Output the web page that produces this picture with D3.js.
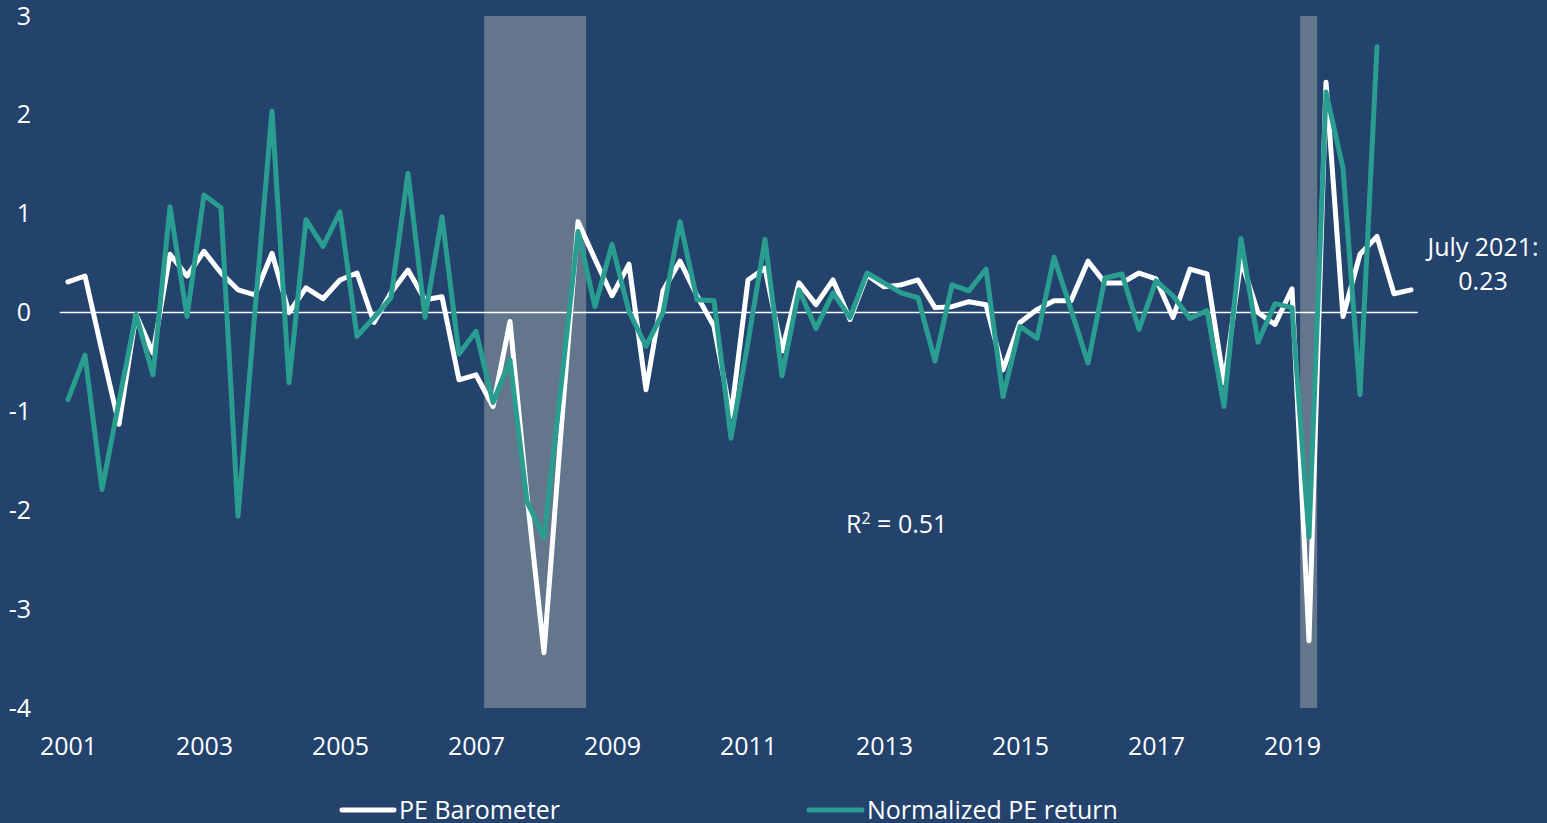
<!DOCTYPE html>
<html>
<head>
<meta charset="utf-8">
<script src="https://cdn.jsdelivr.net/npm/d3@7"></script>
<style>
  html, body { margin: 0; padding: 0; background: #23436d; overflow: hidden; }
  svg { display: block; }
  text { font-family: "Open Sans", "Noto Sans", sans-serif; fill: #ffffff; }
</style>
</head>
<body>
<div id="chart"></div>
<script>
// ---- data (quarterly, starting 2001 Q1) ----
const startYear = 2001;
const peBarometer = [
  0.31, 0.37, -0.39, -1.13, -0.02, -0.41, 0.59, 0.37, 0.62, 0.40,
  0.23, 0.18, 0.60, 0.00, 0.25, 0.14, 0.33, 0.40, -0.10, 0.20,
  0.43, 0.13, 0.16, -0.68, -0.63, -0.95, -0.09, -1.85, -3.44, -1.20,
  0.92, 0.54, 0.17, 0.49, -0.78, 0.22, 0.52, 0.17, -0.14, -1.05,
  0.33, 0.45, -0.39, 0.30, 0.08, 0.33, -0.07, 0.38, 0.26, 0.28,
  0.33, 0.05, 0.06, 0.11, 0.08, -0.58, -0.10, 0.03, 0.12, 0.12,
  0.52, 0.30, 0.30, 0.40, 0.34, -0.05, 0.44, 0.39, -0.71, 0.53,
  0.00, -0.12, 0.24, -3.32, 2.33, -0.04, 0.59, 0.77, 0.19, 0.23
];
const normalizedPE = [
  -0.88, -0.43, -1.79, -0.90, -0.02, -0.63, 1.07, -0.04, 1.19, 1.06,
  -2.06, 0.02, 2.04, -0.71, 0.94, 0.67, 1.02, -0.24, -0.05, 0.15,
  1.41, -0.05, 0.97, -0.42, -0.19, -0.91, -0.48, -1.91, -2.28, -0.75,
  0.82, 0.06, 0.69, 0.01, -0.34, 0.00, 0.92, 0.13, 0.12, -1.27,
  -0.30, 0.74, -0.64, 0.23, -0.16, 0.20, -0.05, 0.40, 0.30, 0.20,
  0.15, -0.49, 0.28, 0.22, 0.44, -0.85, -0.14, -0.26, 0.56, 0.03,
  -0.51, 0.35, 0.39, -0.17, 0.32, 0.17, -0.06, 0.02, -0.95, 0.75,
  -0.30, 0.09, 0.05, -2.27, 2.23, 1.46, -0.83, 2.69
];
const recessions = [[2007.12, 2008.62], [2019.12, 2019.37]];
const yearTicks = [2001, 2003, 2005, 2007, 2009, 2011, 2013, 2015, 2017, 2019];
const valueTicks = [-4, -3, -2, -1, 0, 1, 2, 3];
const seriesNames = ["PE Barometer", "Normalized PE return"];
const annotationLines = ["July 2021:", "0.23"];
const r2Label = ["R", "2", " = 0.51"];

// ---- layout ----
const W = 1547, H = 823;
const colors = { bg: "#23436d", shade: "#64768b", white: "#ffffff", green: "#2a9d91" };

const svg = d3.select("#chart").append("svg").attr("width", W).attr("height", H);
svg.append("rect").attr("width", W).attr("height", H).attr("fill", colors.bg);

const x = d3.scaleLinear().domain([2001, 2021]).range([68, 68 + 20 * 68]);
const y = d3.scaleLinear().domain([-4, 3]).range([708, 16]);

// recession shading
svg.append("g").selectAll("rect").data(recessions).join("rect")
  .attr("x", d => x(d[0]))
  .attr("width", d => x(d[1]) - x(d[0]))
  .attr("y", y(3))
  .attr("height", y(-4) - y(3))
  .attr("fill", colors.shade);

// zero line
svg.append("line")
  .attr("x1", x(2000.88)).attr("x2", x(2020.85))
  .attr("y1", y(0)).attr("y2", y(0))
  .attr("stroke", "#ffffff").attr("stroke-width", 1.5);

// axes
const yAxis = svg.append("g").attr("transform", "translate(31,0)")
  .call(d3.axisLeft(y).tickValues(valueTicks).tickSize(0).tickPadding(0).tickFormat(d => String(d)));
yAxis.select(".domain").remove();
yAxis.selectAll("text").attr("font-size", 25).attr("fill", "#fff")
  .style("font-family", '"Open Sans", sans-serif');

const xAxis = svg.append("g").attr("transform", `translate(0,${y(-4)})`)
  .call(d3.axisBottom(x).tickValues(yearTicks).tickSize(0).tickPadding(29).tickFormat(d => String(d)));
xAxis.select(".domain").remove();
xAxis.selectAll("text").attr("font-size", 25).attr("fill", "#fff")
  .style("font-family", '"Open Sans", sans-serif');

// lines
const line = d3.line().x((d, i) => x(startYear + i / 4)).y(d => y(d)).curve(d3.curveLinear);
svg.append("path").datum(peBarometer)
  .attr("d", line).attr("fill", "none")
  .attr("stroke", colors.white).attr("stroke-width", 5)
  .attr("stroke-linejoin", "round").attr("stroke-linecap", "round");
svg.append("path").datum(normalizedPE)
  .attr("d", line).attr("fill", "none")
  .attr("stroke", colors.green).attr("stroke-width", 5)
  .attr("stroke-linejoin", "round").attr("stroke-linecap", "round");

// R² label
const r2 = svg.append("text").attr("x", 846).attr("y", 533).attr("font-size", 25);
r2.append("tspan").text(r2Label[0]);
r2.append("tspan").text(r2Label[1]).attr("font-size", 16).attr("dy", -9);
r2.append("tspan").text(r2Label[2]).attr("dy", 9);

// annotation
svg.append("g").selectAll("text").data(annotationLines).join("text")
  .attr("x", 1483).attr("y", (d, i) => 256 + i * 34)
  .attr("text-anchor", "middle").attr("font-size", 25)
  .text(d => d);

// legend
const legendItems = [
  { name: seriesNames[0], color: colors.white, x1: 342, x2: 394, tx: 399 },
  { name: seriesNames[1], color: colors.green, x1: 809, x2: 862, tx: 867 }
];
const lg = svg.append("g").selectAll("g").data(legendItems).join("g");
lg.append("line")
  .attr("x1", d => d.x1).attr("x2", d => d.x2)
  .attr("y1", 810).attr("y2", 810)
  .attr("stroke", d => d.color).attr("stroke-width", 5).attr("stroke-linecap", "round");
lg.append("text")
  .attr("x", d => d.tx).attr("y", 819).attr("font-size", 25)
  .text(d => d.name);
</script>
</body>
</html>
